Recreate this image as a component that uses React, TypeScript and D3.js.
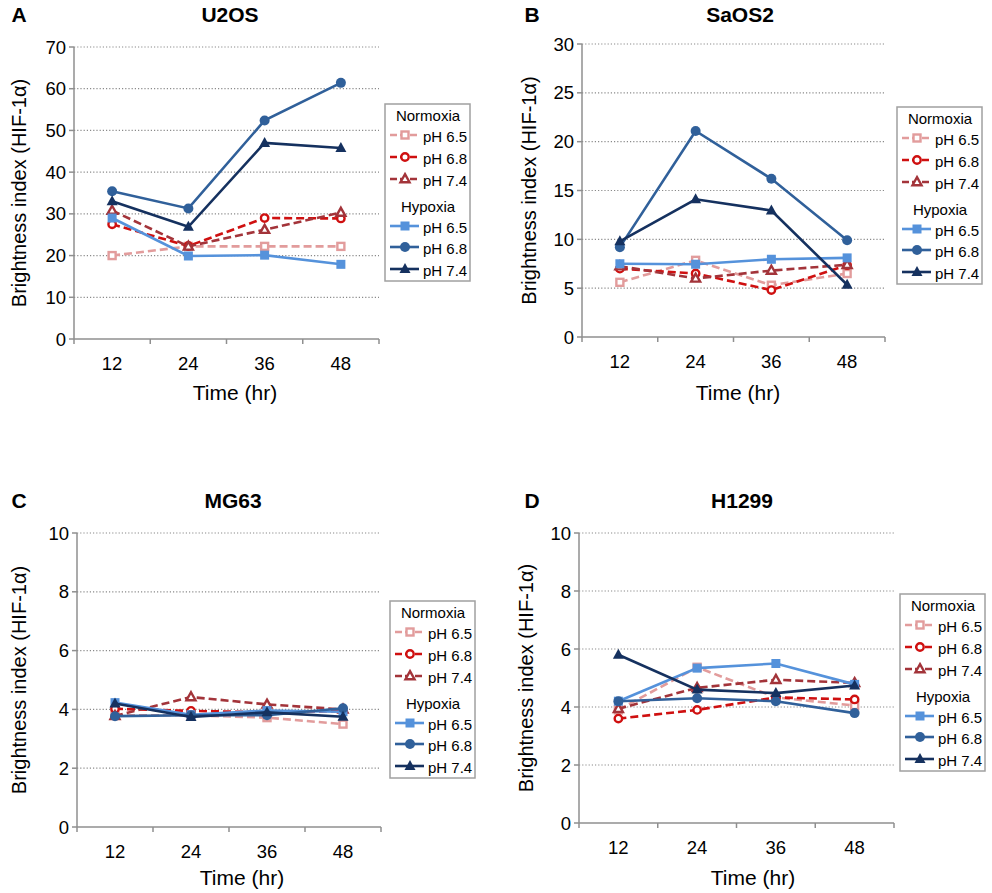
import React from 'react';
import * as d3 from 'd3';

// time points (hr)
const hours = ['12', '24', '36', '48'];
const conditions = ['Normoxia', 'Hypoxia'];
const phLabels = ['pH 6.5', 'pH 6.8', 'pH 7.4'];

// rows: normoxia 6.5 / 6.8 / 7.4, hypoxia 6.5 / 6.8 / 7.4
const u2osValues = [
  [20.0, 22.2, 22.2, 22.2],
  [27.5, 22.3, 29.0, 28.9],
  [30.8, 22.2, 26.2, 30.3],
  [29.0, 19.9, 20.1, 17.9],
  [35.4, 31.3, 52.4, 61.4],
  [33.0, 26.9, 47.0, 45.8],
];
const saos2Values = [
  [5.6, 7.85, 5.3, 6.5],
  [7.0, 6.5, 4.8, 7.35],
  [7.25, 6.0, 6.8, 7.4],
  [7.5, 7.45, 7.96, 8.1],
  [9.2, 21.1, 16.2, 9.9],
  [9.8, 14.1, 12.95, 5.35],
];
const mg63Values = [
  [3.8, 3.8, 3.72, 3.5],
  [4.02, 3.95, 3.9, 3.95],
  [3.78, 4.42, 4.17, 4.0],
  [4.23, 3.82, 3.96, 3.92],
  [3.77, 3.8, 3.8, 4.04],
  [4.2, 3.74, 3.9, 3.75],
];
const h1299Values = [
  [3.9, 5.37, 4.33, 4.05],
  [3.6, 3.9, 4.33, 4.26],
  [3.94, 4.66, 4.94, 4.83],
  [4.2, 5.34, 5.5, 4.78],
  [4.2, 4.3, 4.2, 3.79],
  [5.8, 4.6, 4.48, 4.74],
];

const u2osTicks = [0, 10, 20, 30, 40, 50, 60, 70];
const saos2Ticks = [0, 5, 10, 15, 20, 25, 30];
const smallTicks = [0, 2, 4, 6, 8, 10];

const colors = ['#e29c9c', '#cf1010', '#a3343a', '#5592db', '#30609a', '#15315f'];
const shapes = ['square', 'circle', 'triangle', 'square', 'circle', 'triangle'];
const FONT = 'Liberation Sans, Arial, sans-serif';

type PanelProps = {
  letter: string;
  title: string;
  values: number[][];
  ticks: number[];
  x0: number; x1: number; yTop: number; yBottom: number;
  letterX: number; titleX: number; titleY: number;
  yTitleX: number; xTitleX: number; xTitleY: number;
  legendX: number; legendY: number;
};

const Marker = ({ shape, x, y, color, open }: { shape: string; x: number; y: number; color: string; open: boolean }) => {
  const fill = open ? '#fff' : color;
  const sw = open ? 2.4 : 0;
  if (shape === 'square') {
    const s = open ? 7 : 9;
    return <rect x={x - s / 2} y={y - s / 2} width={s} height={s} fill={fill} stroke={color} strokeWidth={sw} />;
  }
  if (shape === 'circle') {
    return <circle cx={x} cy={y} r={open ? 3.7 : 5} fill={fill} stroke={color} strokeWidth={sw} />;
  }
  const h = open ? 8 : 10;
  const w = open ? 9 : 11;
  const p = `M${x},${y - h * 0.6} L${x + w / 2},${y + h * 0.4} L${x - w / 2},${y + h * 0.4} Z`;
  return <path d={p} fill={fill} stroke={color} strokeWidth={sw} strokeLinejoin="miter" />;
};

const Panel = (p: PanelProps) => {
  const x = d3.scaleBand<string>().domain(hours).range([p.x0, p.x1]);
  const y = d3.scaleLinear().domain([0, d3.max(p.ticks)!]).range([p.yBottom, p.yTop]);
  const line = d3.line<number>()
    .x((_, i) => x(hours[i])! + x.bandwidth() / 2)
    .y(d => y(d));
  const axisColor = '#8f8f8f';
  const edges = [...hours.map(h => x(h)!), p.x1];
  const midY = (p.yTop + p.yBottom) / 2;

  // legend rows
  const rowsY = [31, 53, 75, 122, 143, 165];
  return (
    <g fontFamily={FONT}>
      <text x={p.letterX} y={p.titleY} fontSize={21} fontWeight="bold" textAnchor="middle">{p.letter}</text>
      <text x={p.titleX} y={p.titleY} fontSize={21} fontWeight="bold" textAnchor="middle">{p.title}</text>

      {p.ticks.filter(t => t > 0).map(t => (
        <line key={t} x1={p.x0} x2={p.x1} y1={y(t)} y2={y(t)} stroke="#8a8a8a" strokeWidth={1.2} strokeDasharray="1.2 2" />
      ))}
      <line x1={p.x0} x2={p.x0} y1={p.yTop} y2={p.yBottom} stroke={axisColor} strokeWidth={1.5} />
      <line x1={p.x0} x2={p.x1} y1={p.yBottom} y2={p.yBottom} stroke={axisColor} strokeWidth={1.5} />
      {p.ticks.map(t => (
        <g key={t}>
          <line x1={p.x0 - 5} x2={p.x0} y1={y(t)} y2={y(t)} stroke={axisColor} strokeWidth={1.5} />
          <text x={p.x0 - 8} y={y(t) + 6.5} fontSize={18.5} textAnchor="end">{t}</text>
        </g>
      ))}
      {edges.map((e, i) => (
        <line key={i} x1={e} x2={e} y1={p.yBottom} y2={p.yBottom + 5} stroke={axisColor} strokeWidth={1.5} />
      ))}
      {hours.map(h => (
        <text key={h} x={x(h)! + x.bandwidth() / 2} y={p.yBottom + 31} fontSize={18.5} textAnchor="middle">{h}</text>
      ))}
      <text x={p.xTitleX} y={p.xTitleY} fontSize={21} textAnchor="middle">Time (hr)</text>
      <text transform={`translate(${p.yTitleX},${midY}) rotate(-90)`} fontSize={20} textAnchor="middle" dominantBaseline="central">
        Brightness index (HIF-1α)
      </text>

      {p.values.map((vals, si) => (
        <g key={si}>
          <path d={line(vals)!} fill="none" stroke={colors[si]} strokeWidth={2.6}
            strokeDasharray={si < 3 ? '8 4' : undefined} />
          {vals.map((v, i) => (
            <Marker key={i} shape={shapes[si]} x={x(hours[i])! + x.bandwidth() / 2} y={y(v)} color={colors[si]} open={si < 3} />
          ))}
        </g>
      ))}

      <g transform={`translate(${p.legendX},${p.legendY})`}>
        <rect x={0} y={0} width={85} height={177} fill="#fff" stroke="#a0a0a0" strokeWidth={1.5} />
        {conditions.map((c, ci) => (
          <text key={c} x={43} y={ci === 0 ? 11 : 102} fontSize={15} textAnchor="middle" dominantBaseline="central">{c}</text>
        ))}
        {colors.map((c, si) => (
          <g key={si}>
            <line x1={5} x2={34} y1={rowsY[si]} y2={rowsY[si]} stroke={c} strokeWidth={2.6}
              strokeDasharray={si < 3 ? '7 3' : undefined} />
            <Marker shape={shapes[si]} x={20} y={rowsY[si]} color={c} open={si < 3} />
            <text x={38} y={rowsY[si] + 1} fontSize={15} dominantBaseline="central">{phLabels[si % 3]}</text>
          </g>
        ))}
      </g>
    </g>
  );
};

const App = () => (
  <svg width={992} height={893} style={{ position: 'absolute', left: 0, top: 0, background: '#fff' }}>
    <Panel letter="A" title="U2OS" values={u2osValues} ticks={u2osTicks}
      x0={74} x1={379} yTop={47} yBottom={339}
      letterX={19} titleX={230} titleY={22} yTitleX={19} xTitleX={235} xTitleY={400}
      legendX={385} legendY={104} />
    <Panel letter="B" title="SaOS2" values={saos2Values} ticks={saos2Ticks}
      x0={582} x1={885} yTop={44} yBottom={337}
      letterX={532} titleX={740} titleY={22} yTitleX={529} xTitleX={738} xTitleY={400}
      legendX={897} legendY={107} />
    <Panel letter="C" title="MG63" values={mg63Values} ticks={smallTicks}
      x0={77} x1={381} yTop={533} yBottom={827}
      letterX={19} titleX={233} titleY={508} yTitleX={19} xTitleX={242} xTitleY={885}
      legendX={390} legendY={601} />
    <Panel letter="D" title="H1299" values={h1299Values} ticks={smallTicks}
      x0={579} x1={894} yTop={533} yBottom={823}
      letterX={532} titleX={742} titleY={508} yTitleX={526} xTitleX={753} xTitleY={885}
      legendX={900} legendY={594} />
  </svg>
);

export default App;
